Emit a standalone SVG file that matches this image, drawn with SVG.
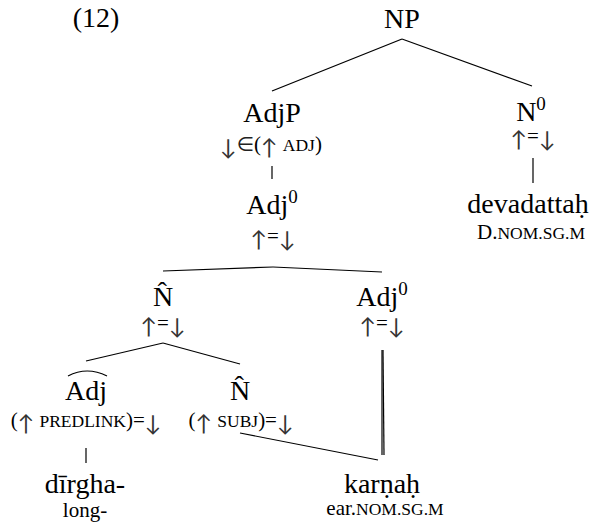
<svg xmlns="http://www.w3.org/2000/svg" width="597" height="526" viewBox="0 0 597 526">
<style>
text{font-family:"Liberation Serif","DejaVu Serif",serif;fill:#000;text-anchor:middle}
.lab{font-size:28px}
.ann{font-size:21px}
.sc{font-size:17.5px}
.sup{font-size:19px}
.ar{font-family:Lato,"DejaVu Sans",sans-serif;font-size:22px;fill:#333}
.el{font-family:Lato,"DejaVu Sans",sans-serif;font-size:20px;fill:#222}
.edge{stroke:#000;stroke-width:1.2;fill:none}
</style>
<rect width="597" height="526" fill="#fff"/>
<text class="lab" x="96" y="27">(12)</text>
<g id="connectors">
<line class="edge" x1="402" y1="39" x2="272" y2="91"/>
<line class="edge" x1="402" y1="39" x2="532" y2="86"/>
<line class="edge" x1="272" y1="166" x2="272" y2="179"/>
<line class="edge" x1="533" y1="158" x2="533" y2="183"/>
<line class="edge" x1="273" y1="267" x2="163" y2="271"/>
<line class="edge" x1="273" y1="267" x2="382" y2="272"/>
<line class="edge" x1="163" y1="343" x2="86" y2="361"/>
<line class="edge" x1="163" y1="343" x2="240" y2="364"/>
<line class="edge" x1="86" y1="448" x2="86" y2="463"/>
<line class="edge" x1="240" y1="433" x2="378" y2="460"/>
<line class="edge" x1="382" y1="350" x2="382" y2="455"/>
<line class="edge" x1="383" y1="350" x2="384" y2="455"/>
</g>
<g id="NP"><text class="lab" x="402" y="28">NP</text></g>
<g id="AdjP"><text class="lab" x="272" y="122">AdjP</text>
<text class="ann" x="271" y="151"><tspan class="ar" dy="4">↓</tspan><tspan class="el" dy="-4">∈</tspan><tspan>(</tspan><tspan class="ar" dy="4">↑</tspan><tspan dy="-4"> </tspan><tspan class="sc">ADJ</tspan>)</text></g>
<g id="N0"><text class="lab" x="531" y="121">N<tspan class="sup" dy="-11">0</tspan></text>
<text class="ann" x="533" y="143"><tspan class="ar" dy="4">↑</tspan><tspan dy="-4">=</tspan><tspan class="ar" dy="4">↓</tspan></text></g>
<g id="devadattah"><text class="lab" x="528" y="213">devadattaḥ</text>
<text class="ann" x="531" y="239">D.<tspan class="sc">NOM.SG.M</tspan></text></g>
<g id="Adj0-top"><text class="lab" x="272" y="214">Adj<tspan class="sup" dy="-11">0</tspan></text>
<text class="ann" x="273" y="243"><tspan class="ar" dy="4">↑</tspan><tspan dy="-4">=</tspan><tspan class="ar" dy="4">↓</tspan></text></g>
<g id="Nhat-top"><text class="lab" x="163" y="306">N̂</text>
<text class="ann" x="163" y="330"><tspan class="ar" dy="4">↑</tspan><tspan dy="-4">=</tspan><tspan class="ar" dy="4">↓</tspan></text></g>
<g id="Adj0-right"><text class="lab" x="382" y="306">Adj<tspan class="sup" dy="-11">0</tspan></text>
<text class="ann" x="382" y="330"><tspan class="ar" dy="4">↑</tspan><tspan dy="-4">=</tspan><tspan class="ar" dy="4">↓</tspan></text></g>
<g id="Adjhat"><text class="lab" x="86" y="400">Adj</text>
<path class="edge" d="M68,376 Q87,366 107,376"/>
<text class="ann" x="86" y="427">(<tspan class="ar" dy="4">↑</tspan><tspan dy="-4"> </tspan><tspan class="sc">PREDLINK</tspan>)=<tspan class="ar" dy="4">↓</tspan></text></g>
<g id="Nhat-subj"><text class="lab" x="240" y="400">N̂</text>
<text class="ann" x="241" y="427">(<tspan class="ar" dy="4">↑</tspan><tspan dy="-4"> </tspan><tspan class="sc">SUBJ</tspan>)=<tspan class="ar" dy="4">↓</tspan></text></g>
<g id="dirgha"><text class="lab" x="85" y="493">dīrgha-</text>
<text class="ann" x="85" y="517">long-</text></g>
<g id="karnah"><text class="lab" x="382" y="493">karṇaḥ</text>
<text class="ann" x="385" y="515">ear.<tspan class="sc">NOM.SG.M</tspan></text></g>
</svg>
